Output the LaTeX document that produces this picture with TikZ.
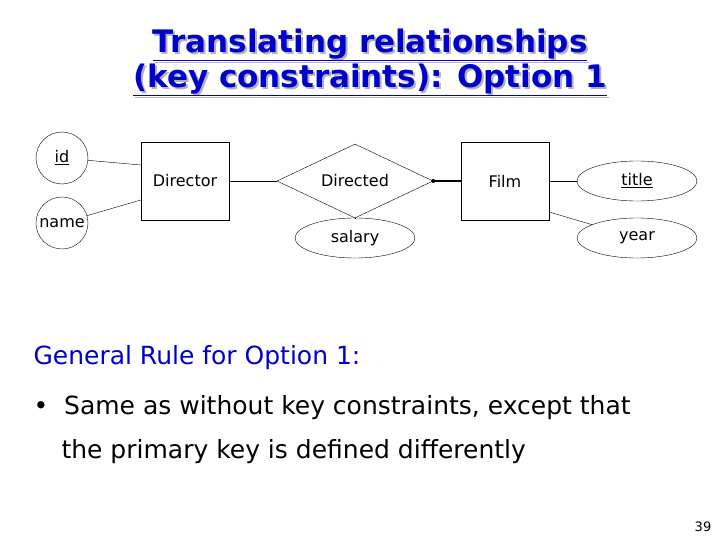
\documentclass[tikz,border=0pt]{standalone}
\usepackage{fontspec}
\setmainfont{DejaVu Sans}
\usetikzlibrary{shapes.geometric, positioning}

\tikzset{
  attr/.style={draw, ellipse, minimum width=120pt, minimum height=40pt, inner sep=1pt, font=\fontsize{16}{18}\selectfont},
  rattr/.style={draw, circle, minimum size=52pt, inner sep=1pt, font=\fontsize{16}{18}\selectfont},
  entity/.style={draw, rectangle, minimum width=88pt, minimum height=78pt, inner sep=1pt, font=\fontsize{16}{18}\selectfont},
  rel/.style={draw, diamond, aspect=2.1, minimum width=156pt, minimum height=74pt, inner sep=0pt, font=\fontsize{16}{18}\selectfont},
  titletext/.style={font=\fontsize{31}{36}\selectfont\bfseries, text=blue!80!black},
  shadowtext/.style={font=\fontsize{31}{36}\selectfont\bfseries, text=gray!60}
}

\begin{document}
\begin{tikzpicture}[x=1pt,y=-1pt]
  \useasboundingbox (0,0) rectangle (720,540);
  % title with shadow
  \node[shadowtext] at (372,47) {\underline{Translating relationships}};
  \node[shadowtext] at (372,82) {\underline{(key constraints): Option 1}};
  \node[titletext] (t1) at (370,45) {\underline{Translating relationships}};
  \node[titletext] (t2) at (370,80) {\underline{(key constraints): Option 1}};

  % diagram
  \node[rattr] (id) at (62,158) {\underline{id}};
  \node[rattr] (name) at (62,223) {name};
  \node[entity] (director) at (185,181) {Director};
  \node[rel] (directed) at (355,181) {Directed};
  \node[entity] (film) at (505,181) {Film};
  \node[attr] (title) at (637,181) {\underline{title}};
  \node[attr] (year) at (637,238) {year};
  \node[attr] (salary) at (355,238) {salary};

  \draw (id) -- (director.west |- 0,165);
  \draw (name) -- (director.west |- 0,200);
  \draw (director) -- (directed);
  \draw (directed) -- (salary);
  \draw[line width=2pt] (directed.east) -- (film);
  \fill (directed.east) circle (2pt);
  \draw (film) -- (title);
  \draw (film.east |- 0,212) -- (year);

  % text
  \node[anchor=west, font=\fontsize{25}{30}\selectfont, text=blue!80!black] (rule) at (30,358) {General Rule for Option 1:};
  \node[anchor=west, font=\fontsize{25}{30}\selectfont] (b1) at (30,408) {\textbullet\ \ Same as without key constraints, except that};
  \node[anchor=west, font=\fontsize{25}{30}\selectfont] (b2) at (58,452) {the primary key is defined differently};
  \node[font=\fontsize{13}{15}\selectfont] (page) at (703,527) {39};
\end{tikzpicture}
\end{document}
